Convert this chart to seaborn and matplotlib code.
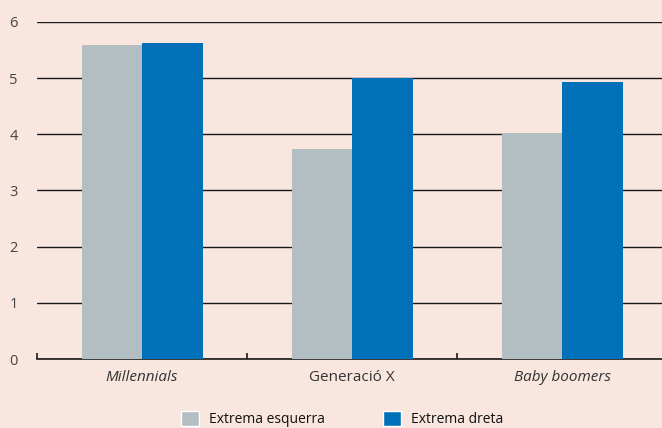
import pandas as pd
import seaborn as sns
import matplotlib.pyplot as plt
from matplotlib.patches import Patch

# dades
generacions = ['Millennials', 'Generació X', 'Baby boomers']
esquerra = [5.59, 3.73, 4.02]
dreta = [5.62, 5.0, 4.93]
series = ['Extrema esquerra', 'Extrema dreta']
colors = ['#B3BEC3', '#0071B9']
bg = '#F8E6DF'

df = pd.DataFrame({
    'generacio': generacions * 2,
    'valor': esquerra + dreta,
    'serie': [series[0]] * 3 + [series[1]] * 3,
})

sns.set_style('white')
plt.rcParams['font.family'] = ['Open Sans', 'DejaVu Sans']

fig = plt.figure(figsize=(6.62, 4.28), dpi=100, facecolor=bg)
ax = fig.add_axes([0.056, 0.161, 0.952, 0.788])
ax.set_facecolor(bg)

sns.barplot(data=df, x='generacio', y='valor', hue='serie', palette=colors,
            width=0.576, saturation=1, linewidth=0, ax=ax, legend=False, zorder=3)

ax.set_ylim(0, 6)
ax.set_xlim(-0.5, 2.5)
ax.set_yticks(range(7))
ax.yaxis.grid(True, color='#1a1a1a', linewidth=1, zorder=0)
ax.set_axisbelow(True)
for s in ['top', 'right', 'left']:
    ax.spines[s].set_visible(False)
ax.spines['bottom'].set_color('#1a1a1a')
ax.spines['bottom'].set_linewidth(1.2)

ax.set_xlabel('')
ax.set_ylabel('')
ax.tick_params(axis='y', length=0, labelsize=10.5, labelcolor='#444444', pad=14)
ax.tick_params(axis='x', which='major', length=0, labelsize=11, labelcolor='#333333', pad=8)
ax.set_xticks([-0.5, 0.5, 1.5], minor=True)
ax.tick_params(axis='x', which='minor', bottom=True, direction='in', length=4, width=1.2,
               color='#1a1a1a')
for lbl in ax.get_xticklabels():
    if lbl.get_text() != 'Generació X':
        lbl.set_fontstyle('italic')

handles = [Patch(facecolor=c, label=l) for c, l in zip(colors, series)]
fig.legend(handles=handles, loc='lower left', bbox_to_anchor=(0.255, -0.028), ncol=2,
           frameon=False, fontsize=10, handlelength=1.3, handleheight=1.3,
           columnspacing=4.2, handletextpad=0.7, labelcolor='#111111')

plt.savefig('out.png', dpi=100, facecolor=bg)
plt.close()
